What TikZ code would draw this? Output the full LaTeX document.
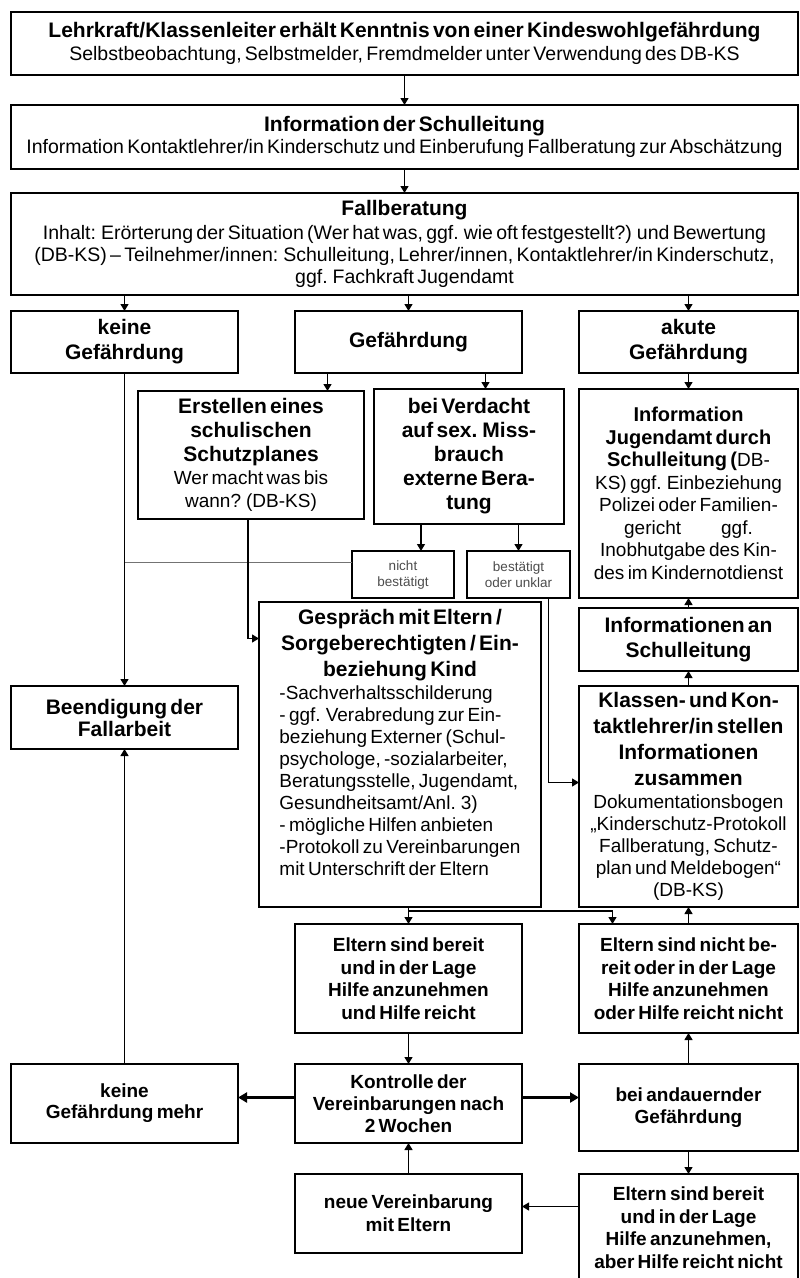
\documentclass[tikz,border=0pt]{standalone}
\usepackage{fontspec}
\setmainfont{Liberation Sans}[WordSpace=1.3]
\usetikzlibrary{positioning}
\usetikzlibrary {arrows.meta}
\newcommand{\fett}[2]{\fontsize{#1}{#2}\selectfont\bfseries}
\newcommand{\norm}[2]{\fontsize{#1}{#2}\selectfont\mdseries}

\begin{document}
\begin{tikzpicture}[x=1pt,y=-1pt,
    kasten/.style={draw,line width=1.6pt,align=center,inner xsep=2pt,inner ysep=0pt,outer sep=0pt},
    klein/.style={kasten,line width=1.4pt,text=black!70},
    pfeil/.style={line width=1.2pt,-{Triangle[length=7pt,width=8pt]}},
    dick/.style={line width=2.6pt,-{Triangle[length=9pt,width=10pt]}},
    ]
    \useasboundingbox (0,0) rectangle (800,1278);
    %% 方框
    \node[kasten,text width=783pt,minimum height=63pt] (k1) at (404.5,43.5)
        {\fett{21}{23}Lehrkraft/Klassenleiter erhält Kenntnis von einer Kindeswohlgefährdung\\
        \norm{19.5}{23}Selbstbeobachtung, Selbstmelder, Fremdmelder unter Verwendung des DB-KS\par};
    \node[kasten,text width=783pt,minimum height=64pt,below=30pt of k1] (k2)
        {\fett{21}{22}Information der Schulleitung\\
        \norm{19.5}{22}Information Kontaktlehrer/in Kinderschutz und Einberufung Fallberatung zur Abschätzung\par};
    \node[kasten,text width=783pt,minimum height=102pt,below=24pt of k2] (k3)
        {\fett{21}{24}Fallberatung\\[2pt]
        \norm{19.5}{22}Inhalt: Erörterung der Situation (Wer hat was, ggf. wie oft festgestellt?) und Bewertung\\
        (DB-KS) – Teilnehmer/innen: Schulleitung, Lehrer/innen, Kontaktlehrer/in Kinderschutz,\\
        ggf. Fachkraft Jugendamt\par};
    \node[kasten,text width=223pt,minimum height=62pt] (k4) at (124.5,342) {\fett{21}{25}keine\\Gefährdung\par};
    \node[kasten,text width=223pt,minimum height=62pt,right=57pt of k4] (k5) {\fett{21}{25}Gefährdung\par};
    \node[kasten,text width=215pt,minimum height=62pt,right=57pt of k5] (k6) {\fett{21}{25}akute\\Gefährdung\par};
    \node[kasten,text width=222pt,minimum height=128pt] (k7) at (251,455)
        {\fett{21}{24}Erstellen eines\\schulischen\\Schutzplanes\\\norm{19}{23}Wer macht was bis\\wann? (DB-KS)\par};
    \node[kasten,text width=186pt,minimum height=135pt] (k8) at (469,456.5)
        {\fett{21}{24}bei Verdacht\\auf sex. Miss-\\brauch\\externe Bera-\\tung\par};
    \node[kasten,text width=215pt,minimum height=209pt] (k9) at (688.5,493.5)
        {\fett{20}{22.5}Information\\Jugendamt durch\\Schulleitung (\norm{19}{22.5}DB-\\KS) ggf. Einbeziehung\\Polizei oder Familien-\\gericht\hspace{40pt}ggf.\\Inobhutgabe des Kin-\\des im Kindernotdienst\par};
    \node[klein,text width=98pt,minimum height=47pt] (k10) at (403,574.5) {\norm{13.5}{16}nicht\\bestätigt\par};
    \node[klein,text width=99pt,minimum height=47pt] (k11) at (518.5,574.5) {\norm{13.5}{16}bestätigt\\oder unklar\par};
    \node[kasten,text width=278pt,minimum height=305pt] (k12) at (400,754.5)
        {\fett{21}{24}Gespräch mit Eltern /\\[2pt]Sorgeberechtigten / Ein-\\[2pt]beziehung Kind\\[2pt]
        \norm{19}{22}\begin{tabular}{@{}l@{}}-Sachverhaltsschilderung\\- ggf. Verabredung zur Ein-\\beziehung Externer (Schul-\\psychologe, -sozialarbeiter,\\Beratungsstelle, Jugendamt,\\Gesundheitsamt/Anl. 3)\\- mögliche Hilfen anbieten\\-Protokoll zu Vereinbarungen\\mit Unterschrift der Eltern\\[18pt]\end{tabular}\par};
    \node[kasten,text width=215pt,minimum height=63pt] (k13) at (688.5,639.5) {\fett{21}{25}Informationen an\\Schulleitung\par};
    \node[kasten,text width=215pt,minimum height=221pt] (k14) at (688.5,796.5)
        {\fett{21}{24}Klassen- und Kon-\\[2pt]taktlehrer/in stellen\\[2pt]Informationen\\[2pt]zusammen\\[1pt]\norm{19}{22}Dokumentationsbogen\\„Kinderschutz-Protokoll\\Fallberatung, Schutz-\\plan und Meldebogen“\\(DB-KS)\par};
    \node[kasten,text width=223pt,minimum height=63pt] (k15) at (124.5,717.5) {\fett{21}{22}Beendigung der\\Fallarbeit\par};
    \node[kasten,text width=223pt,minimum height=109pt] (k16) at (408.5,978.5)
        {\fett{19}{22.5}Eltern sind bereit\\und in der Lage\\Hilfe anzunehmen\\und Hilfe reicht\par};
    \node[kasten,text width=215pt,minimum height=109pt,right=57pt of k16] (k17)
        {\fett{19}{22.5}Eltern sind nicht be-\\reit oder in der Lage\\Hilfe anzunehmen\\oder Hilfe reicht nicht\par};
    \node[kasten,text width=223pt,minimum height=79pt,below=31pt of k16] (k18) {\fett{19}{22}Kontrolle der\\Vereinbarungen nach\\2 Wochen\par};
    \node[kasten,text width=223pt,minimum height=79pt,left=57pt of k18] (k19) {\fett{19}{21}keine\\Gefährdung mehr\par};
    \node[kasten,text width=215pt,minimum height=87pt] (k20) at (688.5,1107.5) {\fett{19}{22}bei andauernder\\Gefährdung\par};
    \node[kasten,text width=223pt,minimum height=79pt,below=31pt of k18] (k21) {\fett{19}{23}neue Vereinbarung\\mit Eltern\par};
    \node[kasten,text width=215pt,minimum height=107pt] (k22) at (688.5,1227.5)
        {\fett{19}{22.5}Eltern sind bereit\\und in der Lage\\Hilfe anzunehmen,\\aber Hilfe reicht nicht\par};
    % 连线
    \draw[pfeil] (k1) -- (k2);
    \draw[pfeil] (k2) -- (k3);
    \draw[pfeil] (k3.south -| k4) -- (k4);
    \draw[pfeil] (k3.south -| k5) -- (k5);
    \draw[pfeil] (k3.south -| k6) -- (k6);
    \draw[pfeil] ([xshift=-81pt]k5.south) -- ([xshift=-81pt]k5.south |- k7.north);
    \draw[pfeil] ([xshift=77pt]k5.south) -- ([xshift=77pt]k5.south |- k8.north);
    \draw[pfeil] (k6) -- (k9);
    \draw[pfeil] ([xshift=18pt]k10.north |- k8.south) -- ([xshift=18pt]k10.north);
    \draw[pfeil] (k8.south -| k11) -- (k11);
    \draw[pfeil] (k4) -- (k15);
    \draw[black!55,line width=1.8pt] ([yshift=12pt]k10.west) -- ([yshift=12pt]k10.west -| k4);
    \draw[pfeil] ([xshift=-3pt]k7.south) |- ([yshift=116pt]k12.west);
    \draw[pfeil] ([xshift=30pt]k11.south) |- ([yshift=14pt]k14.west);
    \draw[pfeil] (k14) -- (k13);
    \draw[pfeil] (k13) -- (k9);
    % Gespräch -> Eltern
    \draw[pfeil] (k16.north |- k12.south) -- (k16);
    \coordinate (g1) at ([yshift=-4pt]k16.north |- k12.south);
    \draw[pfeil] (g1) -| ([xshift=-76pt]k17.north);
    \draw[pfeil] (k17) -- (k14);
    \draw[pfeil] (k16) -- (k18);
    \draw[dick] ([yshift=6pt]k18.west) -- ([yshift=6pt]k18.west -| k19.east);
    \draw[dick] ([yshift=6pt]k18.east) -- ([yshift=6pt]k18.east -| k20.west);
    \draw[pfeil] (k19) -- (k15);
    \draw[pfeil] (k20) -- (k17);
    \draw[pfeil] (k20) -- (k22);
    \draw[pfeil] ([yshift=21pt]k22.west) -- ([yshift=21pt]k22.west -| k21.east);
    \draw[pfeil] (k21) -- (k18);
\end{tikzpicture}
\end{document}
